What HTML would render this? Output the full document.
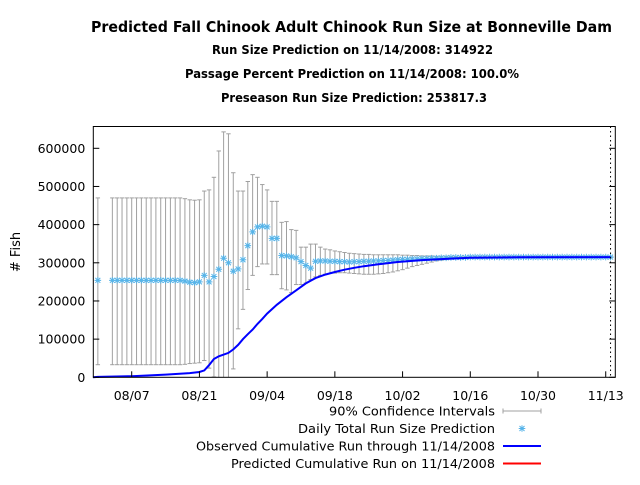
<!DOCTYPE html>
<html><head><meta charset="utf-8"><style>
body{margin:0;background:#fff;}
svg text{font-family:"DejaVu Sans","Liberation Sans",sans-serif;}
</style></head><body>
<svg id="chart" width="640" height="480" xmlns="http://www.w3.org/2000/svg">
<rect width="640" height="480" fill="#fff"/>
<text x="91" y="32" textLength="521" lengthAdjust="spacingAndGlyphs" font-size="15" font-weight="bold">Predicted Fall Chinook Adult Chinook Run Size at Bonneville Dam</text>
<text x="212" y="54" textLength="281" lengthAdjust="spacingAndGlyphs" font-size="12.5" font-weight="bold">Run Size Prediction on 11/14/2008: 314922</text>
<text x="185" y="78" textLength="334" lengthAdjust="spacingAndGlyphs" font-size="12.5" font-weight="bold">Passage Percent Prediction on 11/14/2008: 100.0%</text>
<text x="221" y="102" textLength="266" lengthAdjust="spacingAndGlyphs" font-size="12.5" font-weight="bold">Preseason Run Size Prediction: 253817.3</text>
<text transform="translate(20,252) rotate(-90)" text-anchor="middle" font-size="13"># Fish</text>
<g id="plot"></g>
<g id="legend"></g>
</svg>
<script>
const xTickLabels=["08/07","08/21","09/04","09/18","10/02","10/16","10/30","11/13"];
const xTickDays=[0,14,28,42,56,70,84,98];
const yTicks=[0,100000,200000,300000,400000,500000,600000];
const days=[-7,-4,-3,-2,-1,0,1,2,3,4,5,6,7,8,9,10,11,12,13,14,15,16,17,18,19,20,21,22,23,24,25,26,27,28,29,30,31,32,33,34,35,36,37,38,39,40,41,42,43,44,45,46,47,48,49,50,51,52,53,54,55,56,57,58,59,60,61,62,63,64,65,66,67,68,69,70,71,72,73,74,75,76,77,78,79,80,81,82,83,84,85,86,87,88,89,90,91,92,93,94,95,96,97,98,99];
const pred=[254000,254000,254000,254000,254000,254000,254000,254000,254000,254000,254000,254000,254000,254000,254000,254000,252000,249000,248000,250000,
267000,250000,264000,283000,312000,300000,278000,284000,308000,345000,381000,394000,396000,394000,364000,364000,319000,318000,316000,313000,303000,293000,286000,304000,305000,
305000,304000,304000,303000,303000,302000,303000,303000,304000,304000,305000,305000,306000,306000,307000,308000,
309000,309000,310000,310000,311000,311000,312000,312000,313000,313000,314000,314000,314000,314000,
315000,315000,315000,315000,315000,315000,315000,315000,315000,315000,315000,315000,315000,315000,315000,315000,315000,315000,315000,315000,315000,315000,315000,315000,315000,315000,315000,315000,315000,315000];
const upper=[470000,470000,470000,470000,470000,470000,470000,470000,470000,470000,470000,470000,470000,470000,470000,470000,468000,465000,464000,465000,
488000,491000,524000,593000,643000,638000,536000,488000,488000,513000,531000,524000,505000,491000,461000,461000,406000,408000,387000,385000,341000,341000,349000,349000,341000,
336000,334000,331000,329000,327000,325000,324000,323000,322000,322000,321000,321000,321000,321000,321000,321000,
320000,320000,319000,319000,318000,318000,318000,317000,317000,317000,316000,316000,316000,316000,
316000,316000,316000,316000,316000,316000,316000,316000,316000,316000,316000,316000,316000,316000,316000,316000,316000,316000,316000,316000,316000,316000,316000,316000,316000,316000,316000,316000,316000,316000];
const lower=[33000,33000,33000,33000,33000,33000,33000,33000,33000,33000,33000,33000,33000,33000,33000,33000,34000,36000,37000,38000,
44000,24000,1000,-30000,-60000,-60000,22000,127000,178000,230000,267000,290000,297000,297000,269000,269000,232000,229000,222000,243000,243000,247000,256000,263000,267000,
270000,272000,273000,274000,274000,273000,272000,271000,270000,270000,270000,271000,272000,274000,276000,279000,
282000,286000,290000,293000,296000,299000,302000,305000,307000,309000,311000,312000,313000,313000,
314000,314000,314000,314000,314000,314000,314000,314000,314000,314000,314000,314000,314000,314000,314000,314000,314000,314000,314000,314000,314000,314000,314000,314000,314000,314000,314000,314000,314000,314000];
const cumDays=[-8,-7,0,7,12,14,15,16,17,18,20,21,22,23,24,25,26,27,28,30,32,34,36,38,40,42,44,46,48,51,55,60,66,70,80,99];
const cumVals=[0,1000,3000,7000,11000,14000,18000,32000,48000,55000,64000,73000,85000,100000,113000,125000,140000,153000,167000,190000,210000,228000,246000,260000,269000,276000,282000,287000,291000,296000,302000,307000,311000,313000,314500,314922];

const L=93.3,R=615.3,T=126.5,B=377.3,D0=-7.94,D1=99.98;
const X=d=>L+(d-D0)/(D1-D0)*(R-L);
const Y=v=>B-v/600000*229;
const NS="http://www.w3.org/2000/svg";
const plot=document.getElementById('plot');
function mk(tag,attrs,parent){const e=document.createElementNS(NS,tag);for(const k in attrs)e.setAttribute(k,attrs[k]);(parent||plot).appendChild(e);return e;}
const clamp=y=>Math.max(T,Math.min(B,y));

days.forEach((d,i)=>{
  const x=X(d),y1=clamp(Y(upper[i])),y2=clamp(Y(lower[i]));
  const g=mk('g',{stroke:'#a0a0a0','stroke-width':1});
  
  
  mk('line',{x1:x,x2:x,y1:y1,y2:y2},g);
  if(Y(upper[i])>=T) mk('line',{x1:x-2.2,x2:x+2.2,y1:y1,y2:y1},g);
  if(Y(lower[i])<=B) mk('line',{x1:x-2.2,x2:x+2.2,y1:y2,y2:y2},g);
});
days.forEach((d,i)=>{
  const x=X(d),y=Y(pred[i]),r=3.3;
  const g=mk('g',{stroke:'#56b4e9','stroke-width':1});
  
  
  mk('path',{d:`M${x-r},${y}H${x+r}M${x},${y-r}V${y+r}M${x-r*.75},${y-r*.75}L${x+r*.75},${y+r*.75}M${x-r*.75},${y+r*.75}L${x+r*.75},${y-r*.75}`},g);
});
const cl=mk('path',{d:cumDays.map((d,i)=>(i?'L':'M')+X(d).toFixed(1)+','+Y(cumVals[i]).toFixed(1)).join(''),fill:'none',stroke:'#0000ff','stroke-width':2});


const dl=mk('line',{x1:X(99),x2:X(99),y1:T,y2:B,stroke:'#000','stroke-width':1,'stroke-dasharray':'1.5,3'});


const fr=mk('rect',{x:L,y:T,width:R-L,height:B-T,fill:'none',stroke:'#000','stroke-width':1});


yTicks.forEach(v=>{
  const y=Y(v);
  mk('line',{x1:L,x2:L+6,y1:y,y2:y,stroke:'#000'});
  mk('line',{x1:R,x2:R-6,y1:y,y2:y,stroke:'#000'});
  const t=mk('text',{x:L-8,y:y+4.5,'text-anchor':'end','font-size':12.5});
  
  
  t.textContent=v;
});
xTickDays.forEach((d,i)=>{
  const x=X(d);
  mk('line',{x1:x,x2:x,y1:B,y2:B-6,stroke:'#000'});
  const t=mk('text',{x:x,y:400,'text-anchor':'middle','font-size':12.5});
  
  
  t.textContent=xTickLabels[i];
});
const lg=document.getElementById('legend');
const items=["90% Confidence Intervals","Daily Total Run Size Prediction","Observed Cumulative Run through 11/14/2008","Predicted Cumulative Run on 11/14/2008"];
const starts=[329,298,196,231];
items.forEach((s,i)=>{
  const y=411+i*17.5;
  const t=mk('text',{x:starts[i],y:y+4.5,textLength:495-starts[i],lengthAdjust:'spacingAndGlyphs','font-size':12.5},lg);
  
  
  t.textContent=s;
  if(i===0){mk('path',{d:`M503,${y}H541M503,${y-2.5}V${y+2.5}M541,${y-2.5}V${y+2.5}`,stroke:'#a0a0a0',fill:'none'},lg);}
  else if(i===1){const x=522,r=3.3;mk('path',{d:`M${x-r},${y}H${x+r}M${x},${y-r}V${y+r}M${x-2.5},${y-2.5}L${x+2.5},${y+2.5}M${x-2.5},${y+2.5}L${x+2.5},${y-2.5}`,stroke:'#56b4e9'},lg);}
  else mk('line',{x1:503,x2:541,y1:y,y2:y,stroke:i===2?'#0000ff':'#ff0000','stroke-width':2},lg);
});
</script>
</body></html>
